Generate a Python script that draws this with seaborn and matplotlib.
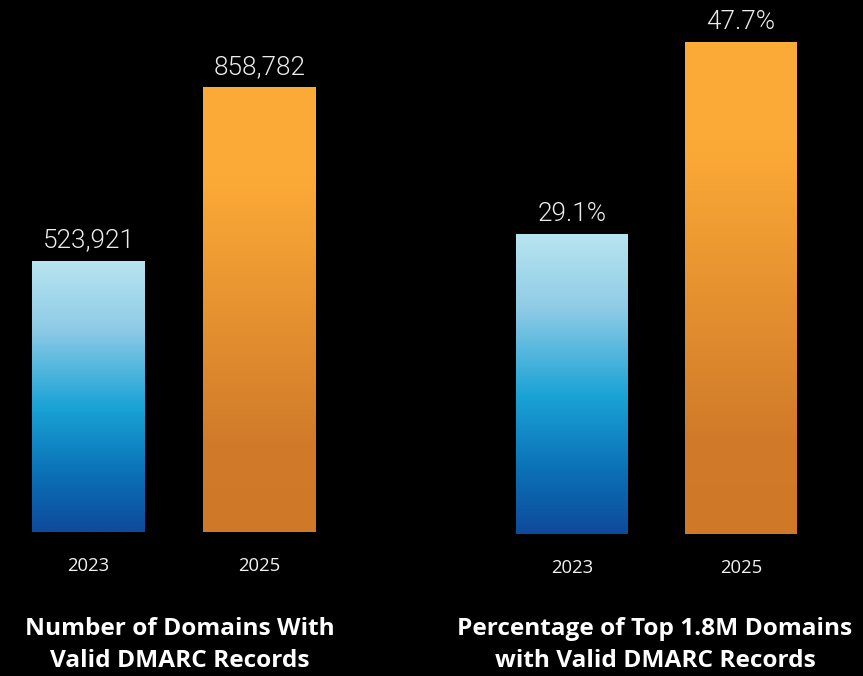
import numpy as np
import pandas as pd
import matplotlib
matplotlib.use("Agg")
import matplotlib.pyplot as plt
from matplotlib.colors import LinearSegmentedColormap
import seaborn as sns

years = ["2023", "2025"]
domain_counts = [523921, 858782]
domain_labels = ["523,921", "858,782"]
domain_pct = [29.1, 47.7]
pct_labels = ["29.1%", "47.7%"]
titles = ["Number of Domains With\nValid DMARC Records",
          "Percentage of Top 1.8M Domains\nwith Valid DMARC Records"]

sns.set_theme(style="dark")
plt.rcParams["font.family"] = ["Open Sans", "DejaVu Sans"]

BG = "#000000"
blue_cmap = LinearSegmentedColormap.from_list(
    "blue_bar",
    [(0.0, "#b8e5f0"), (0.25, "#8fcbe6"), (0.54, "#1aa3d6"),
     (0.78, "#0b72b8"), (1.0, "#0e4a9b")])
orange_cmap = LinearSegmentedColormap.from_list(
    "orange_bar",
    [(0.0, "#fdab38"), (0.2, "#fcaa37"), (0.8, "#d17b2a"), (1.0, "#cf7928")])
cmaps = [blue_cmap, orange_cmap]

fig = plt.figure(figsize=(8.63, 6.76), dpi=100, facecolor=BG)

panels = [
    dict(rect=[3 / 863, 144 / 676, 342 / 863, 492 / 676],
         values=domain_counts, labels=domain_labels,
         ylim=858782 * 492 / 445, title=titles[0], title_x=180 / 863),
    dict(rect=[487.5 / 863, 142 / 676, 338 / 863, 524 / 676],
         values=domain_pct, labels=pct_labels,
         ylim=47.7 * 524 / 492, title=titles[1], title_x=655 / 863),
]

grad = np.linspace(0, 1, 256).reshape(-1, 1)

for p in panels:
    ax = fig.add_axes(p["rect"])
    ax.set_facecolor(BG)
    df = pd.DataFrame({"year": years, "value": p["values"]})
    sns.barplot(data=df, x="year", y="value", ax=ax, width=0.66,
                color="#888888", saturation=1)
    ax.set_xlim(-0.5, 1.5)
    ax.set_ylim(0, p["ylim"])
    for i, bar in enumerate(ax.patches):
        x0, w = bar.get_x(), bar.get_width()
        h = bar.get_height()
        bar.set_facecolor("none")
        bar.set_edgecolor("none")
        im = ax.imshow(grad, cmap=cmaps[i], aspect="auto",
                       extent=[x0, x0 + w, 0, h], origin="upper",
                       interpolation="bilinear", zorder=2)
        im.set_clip_path(bar)
        ax.annotate(p["labels"][i], (x0 + w / 2, h), xytext=(0, 9.5),
                    textcoords="offset points", ha="center", va="baseline",
                    fontsize=18.8, fontweight=300, color="#ececec",
                    family=["Roboto", "DejaVu Sans"])
    ax.set_xlabel("")
    ax.set_ylabel("")
    ax.set_yticks([])
    ax.tick_params(axis="x", length=0, pad=18, labelsize=13.3, colors="#f2f2f2")
    ax.grid(False)
    for s in ax.spines.values():
        s.set_visible(False)
    fig.text(p["title_x"], 31 / 676, p["title"], ha="center", va="center",
             fontsize=17.6, fontweight="bold", color="white",
             linespacing=1.42)

fig.savefig("out.png", dpi=100, facecolor=BG)
